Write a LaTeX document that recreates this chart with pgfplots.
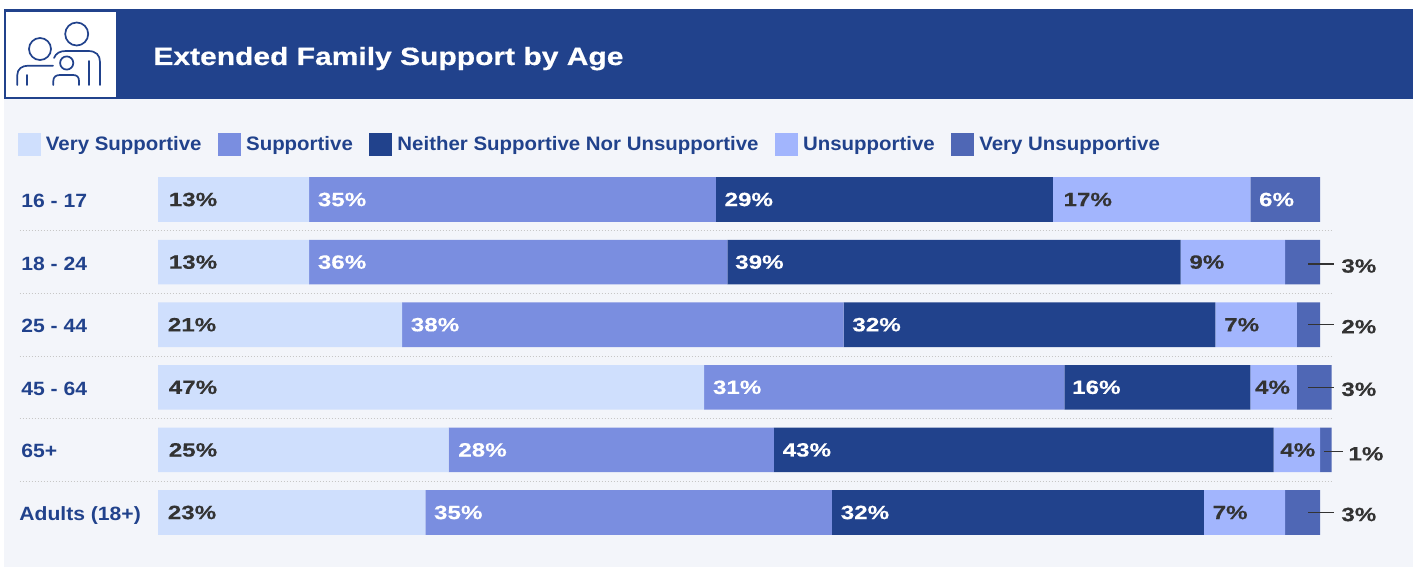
\documentclass[border=0pt]{standalone}
\usepackage{fontspec}
\setmainfont{Liberation Sans}
\newfontfamily\numfont[FakeStretch=1.26, FakeBold=0.3]{Liberation Sans}
\newfontfamily\headfont[FakeStretch=1.2, FakeBold=0.5]{Liberation Sans}
\newfontfamily\rowfont[FakeStretch=1.1]{Liberation Sans}
\newfontfamily\keyfont[FakeStretch=1.05]{Liberation Sans}
\usepackage{pgfplots}
\usepackage{pgfplotstable}
\pgfplotsset{compat=1.18}

\definecolor{veryS}{HTML}{CFDFFD}
\definecolor{supp}{HTML}{7A8EE0}
\definecolor{neither}{HTML}{21428C}
\definecolor{unsupp}{HTML}{A2B5FD}
\definecolor{veryU}{HTML}{4F67B5}
\definecolor{panel}{HTML}{F3F5FA}
\definecolor{ink}{HTML}{333333}

% Share of respondents per age group, in percent,
% followed by the inset of each segment's label from the segment's start
\pgfplotstableread{
row vs su ne un vu ivs isu ine iun
0   13 35 29 17 6  10  8   8   10
1   13 36 39 9  3  10  8   7   8
2   21 38 32 7  2  9   8   8   8
3   47 31 16 4  3  10  8   7   4
4   25 28 43 4  1  10  9   8   6
5   23 35 32 7  3  9   8   8   8
}\supporttable

% "Very Unsupportive" values labelled outside the bar
\pgfplotstableread{
row   tip     val
1.03  101.2   3
2     101.2   2
3     101.2   3
4.03  101.81  1
5     101.2   3
}\outsidetable

% Leader lines from those bars to their labels
\pgfplotstableread{
x       y
98.97   1.03
101.2   1.03
nan     nan
98.97   2
101.2   2
nan     nan
98.97   3
101.2   3
nan     nan
100.34  4.03
101.98  4.03
nan     nan
98.97   5
101.2   5
}\leadertable

% The one "Very Unsupportive" value that fits in its bar
\pgfplotstableread{
row start val
0   94    6
}\insidetable

\pgfplotsset{
  chartframe/.style={
    at={(79pt,-84.1pt)}, anchor=north west,
    scale only axis, width=581pt, height=187.8pt,
    xmin=0, xmax=100, ymin=-0.5, ymax=5.5, y dir=reverse, clip=false,
    /pgf/number format/assume math mode=true,
  },
  % stacked labels sit at the segment's middle: move them to just inside its start
  seglabel/.style 2 args={
    visualization depends on={rawx \as \rawv},
    visualization depends on={\thisrow{#2} \as \inset},
    nodes near coords={\pgfmathprintnumber{\rawv}\%},
    nodes near coords style={
      anchor=west, inner sep=0pt, text=#1,
      font=\numfont\bfseries\fontsize{9.6}{10}\selectfont,
      xshift={(-\rawv*2.905+\inset*0.5+0.2)*1pt}},
  },
}

\begin{document}
\begin{tikzpicture}
  \path[use as bounding box, fill=white] (0,0) rectangle (706.5pt,-283.5pt);
  \fill[panel] (2pt,-49pt) rectangle (706.5pt,-283.5pt);
  \fill[neither] (2pt,-4.5pt) rectangle (706.5pt,-49.5pt);
  \fill[white] (3pt,-6pt) rectangle (58pt,-48.5pt);
  \node[anchor=base west, inner sep=0pt, text=white,
    font=\headfont\bfseries\fontsize{12.5}{14}\selectfont] at (76.5pt,-32.5pt)
    {Extended Family Support by Age};

  % Family icon
  \begin{scope}[x=0.5pt, y=-0.5pt, draw=neither, line width=0.85pt, line cap=round]
    \draw (76.7,34) circle (11.5);
    \draw (40,49) circle (11);
    \draw (66.7,63) circle (6.6);
    \draw (54,58) .. controls (56,53) and (60,51) .. (66,51) -- (88,51)
          .. controls (96,51) and (100,55) .. (100,62) -- (100,85);
    \draw (89.3,61) -- (89.3,85);
    \draw (17.3,85) -- (17.3,75) .. controls (17.3,69) and (22,65.7) .. (28,65.7) -- (53,65.7);
    \draw (26.7,75) -- (26.7,85);
    \draw (53.3,85) -- (53.3,81) .. controls (53.3,77) and (56,75) .. (60,75) -- (73,75)
          .. controls (77,75) and (79,77) .. (79,81) -- (79,85);
  \end{scope}

  % Stacked bars, age labels and legend
  \begin{axis}[
    chartframe,
    xbar stacked, bar width=22.3pt,
    axis line style={draw=none}, tick style={draw=none},
    xtick=\empty,
    ytick={0,1,2,3,4,5},
    yticklabels={16 - 17, 18 - 24, 25 - 44, 45 - 64, 65+, \hspace*{-1pt}Adults (18+)},
    yticklabel style={anchor=west, inner sep=0pt, xshift=-68.5pt, yshift=-0.5pt,
      text height=7pt, text depth=0pt, text=neither,
      font=\rowfont\bfseries\fontsize{9.6}{10}\selectfont},
    legend columns=-1,
    legend cell align=left,
    legend style={
      at={(axis description cs:-0.1205,1.062)}, anchor=west,
      draw=none, fill=none, inner sep=0pt, outer sep=0pt,
      nodes={inner sep=0pt, text=neither,
        font=\keyfont\bfseries\fontsize{9.73}{11}\selectfont},
      /tikz/every even column/.append style={column sep=8.3pt},
      /tikz/every odd column/.append style={column sep=2.5pt},
    },
    legend image code/.code={\fill[#1] (0pt,-5.75pt) rectangle (11.5pt,5.75pt);},
  ]
    \addplot[draw=none, fill=veryS, seglabel={ink}{ivs}] table[x=vs, y=row] {\supporttable};
    \addplot[draw=none, fill=supp, seglabel={white}{isu}] table[x=su, y=row] {\supporttable};
    \addplot[draw=none, fill=neither, seglabel={white}{ine}] table[x=ne, y=row] {\supporttable};
    \addplot[draw=none, fill=unsupp, seglabel={ink}{iun}] table[x=un, y=row] {\supporttable};
    \addplot[draw=none, fill=veryU] table[x=vu, y=row] {\supporttable};
    \legend{Very Supportive, Supportive, Neither Supportive Nor Unsupportive, Unsupportive, Very Unsupportive}

    % Dotted rules between the rows
    \pgfplotsinvokeforeach{0.5,1.5,2.5,3.5,4.5}{
      \draw[densely dotted, line width=0.5pt, color=black!22]
        (axis cs:-11.9,#1) -- (axis cs:101,#1);
    }
  \end{axis}

  % Labels of the "Very Unsupportive" series
  \begin{axis}[chartframe, hide axis]
    \addplot[only marks, mark=none, point meta=explicit,
      nodes near coords={\pgfmathprintnumber{\pgfplotspointmeta}\%},
      nodes near coords style={anchor=west, inner sep=0pt, text=white, xshift=4.2pt,
        font=\numfont\bfseries\fontsize{9.6}{10}\selectfont}]
      table[x=start, y=row, meta=val] {\insidetable};
    \addplot[ink, mark=none, line width=0.6pt, unbounded coords=jump]
      table[x=x, y=y] {\leadertable};
    \addplot[only marks, mark=none, point meta=explicit,
      nodes near coords={\pgfmathprintnumber{\pgfplotspointmeta}\%},
      nodes near coords style={anchor=west, inner sep=0pt, text=ink, xshift=3.5pt, yshift=-1pt,
        font=\numfont\bfseries\fontsize{9.6}{10}\selectfont}]
      table[x=tip, y=row, meta=val] {\outsidetable};
  \end{axis}
\end{tikzpicture}
\end{document}
